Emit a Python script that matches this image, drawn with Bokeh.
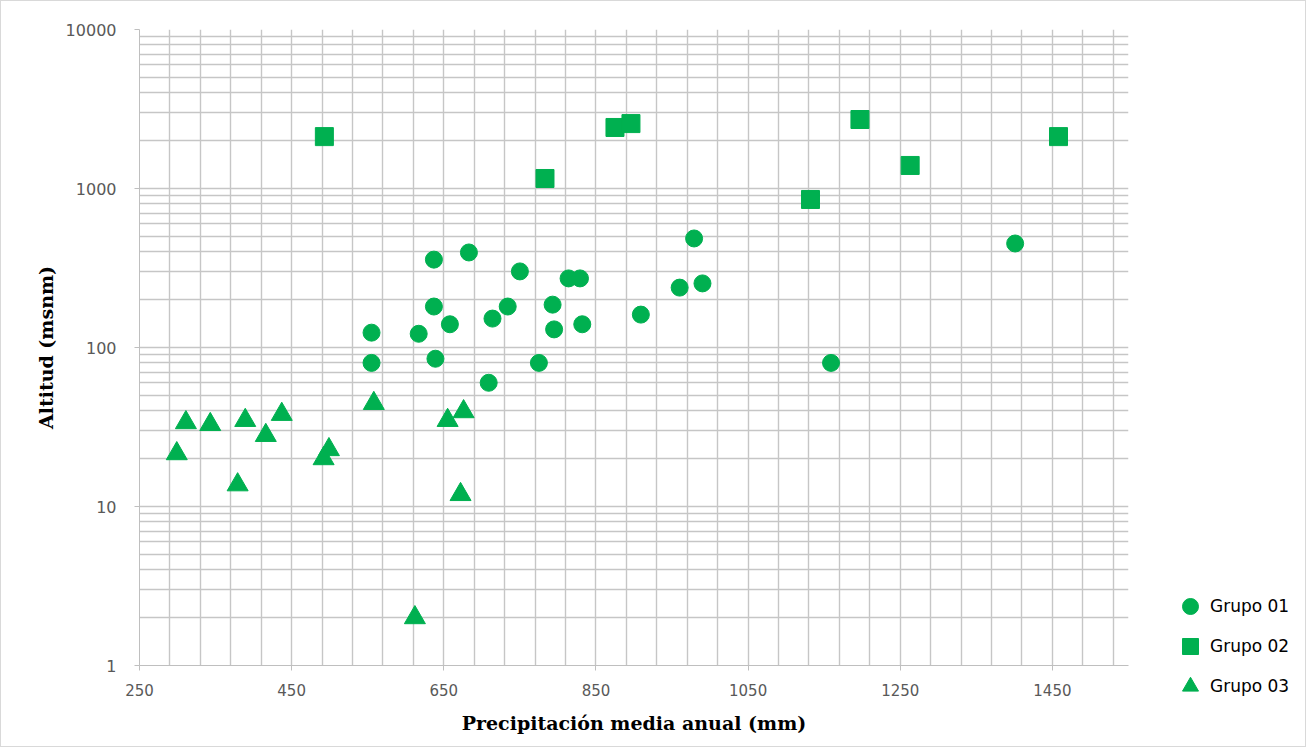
from bokeh.plotting import figure
from bokeh.models import Range1d, FixedTicker, PrintfTickFormatter, Legend, LegendItem
from bokeh.layouts import row
from bokeh.embed import file_html
from bokeh.resources import INLINE

# ---- data ----
g1_x = [555, 555, 637, 637, 639, 617, 658, 683, 709, 714, 734, 750, 775, 793, 795, 814, 829, 832, 909, 960, 979, 990, 1159, 1401]
g1_y = [124, 80, 357, 181, 85, 122, 140, 396, 60, 152, 181, 301, 80, 186, 130, 272, 272, 140, 161, 238, 485, 253, 80, 451]

g2_x = [493, 783, 875, 896, 1132, 1197, 1263, 1458]
g2_y = [2120, 1156, 2420, 2560, 853, 2716, 1396, 2120]

g3_x = [299, 311, 343, 379, 389, 416, 437, 492, 499, 558, 655, 676, 672, 612]
g3_y = [21.5, 33.7, 32.8, 13.7, 34.8, 28, 38, 20, 22.8, 44.5, 34.8, 39.5, 11.9, 2]

series_names = ["Grupo 01", "Grupo 02", "Grupo 03"]
x_ticks = [250, 450, 650, 850, 1050, 1250, 1450]
y_ticks = [1, 10, 100, 1000, 10000]

GREEN = "#00b050"
GRID = "#c6c6c6"
TOTAL_W, TOTAL_H = 1304, 745
MAIN_W = 1130

p = figure(width=MAIN_W, height=TOTAL_H, output_backend="svg", toolbar_location=None,
           x_range=Range1d(250, 1550), y_range=Range1d(1, 10000), y_axis_type="log",
           min_border_left=138, min_border_right=3, min_border_top=28, min_border_bottom=81)
p.outline_line_color = None
p.background_fill_color = "white"
p.border_fill_color = "white"

# grids
p.xgrid.ticker = FixedTicker(ticks=list(range(250, 1551, 40)) + [1550])
ygt = []
for e in range(0, 4):
    for m in range(1, 10):
        ygt.append(m * 10 ** e)
ygt.append(10000)
p.ygrid.ticker = FixedTicker(ticks=ygt)
for g in (p.xgrid, p.ygrid):
    g.grid_line_color = GRID
    g.grid_line_width = 1.4

# axes
p.xaxis.ticker = FixedTicker(ticks=x_ticks)
p.yaxis.ticker = FixedTicker(ticks=y_ticks)
p.yaxis.formatter = PrintfTickFormatter(format="%d")
for ax in (p.xaxis, p.yaxis):
    ax.axis_line_color = "#bfbfbf"
    ax.major_tick_line_color = "#bfbfbf"
    ax.major_tick_out = 5
    ax.major_tick_in = 0
    ax.minor_tick_out = 0
    ax.minor_tick_in = 0
    ax.major_label_text_font = "DejaVu Sans"
    ax.major_label_text_font_size = "15px"
    ax.major_label_text_color = "#595959"
    ax.axis_label_text_font = "DejaVu Serif"
    ax.axis_label_text_font_style = "bold"
    ax.axis_label_text_font_size = "19px"
    ax.axis_label_text_color = "#000000"
p.yaxis.major_label_text_font_size = "16px"
p.xaxis.major_label_standoff = 13
p.yaxis.major_label_standoff = 18
p.xaxis.axis_label = "Precipitación media anual (mm)"
p.yaxis.axis_label = "Altitud (msnm)"
p.xaxis.axis_label_standoff = 13
p.yaxis.axis_label_standoff = 6

p.scatter(g1_x, g1_y, marker="circle", size=17, fill_color=GREEN, line_color=GREEN)
p.scatter(g2_x, g2_y, marker="square", size=18, fill_color=GREEN, line_color=GREEN)
p.scatter(g3_x, g3_y, marker="triangle", size=21, fill_color=GREEN, line_color=GREEN)

# legend panel to the right of the plot area (proxy points lie outside its ranges)
lg = figure(width=TOTAL_W - MAIN_W, height=TOTAL_H, output_backend="svg", toolbar_location=None,
            x_range=Range1d(0, 1), y_range=Range1d(0, 1),
            x_axis_location=None, y_axis_location=None,
            min_border_left=0, min_border_right=0, min_border_top=0, min_border_bottom=0)
lg.frame_align = False
lg.grid.visible = False
lg.outline_line_color = None
lg.border_fill_color = "white"
lg.background_fill_color = "white"
k1 = lg.scatter(g1_x[:1], g1_y[:1], marker="circle", size=17, fill_color=GREEN, line_color=GREEN)
k2 = lg.scatter(g2_x[:1], g2_y[:1], marker="square", size=17, fill_color=GREEN, line_color=GREEN)
k3 = lg.scatter(g3_x[:1], g3_y[:1], marker="triangle", size=19, fill_color=GREEN, line_color=GREEN)
legend = Legend(items=[LegendItem(label=series_names[0], renderers=[k1]),
                       LegendItem(label=series_names[1], renderers=[k2]),
                       LegendItem(label=series_names[2], renderers=[k3])],
                location=(39, 40))
legend.border_line_color = None
legend.background_fill_alpha = 0
legend.label_text_font = "DejaVu Sans"
legend.label_text_font_size = "17px"
legend.label_text_color = "#000000"
legend.glyph_width = 40
legend.glyph_height = 40
legend.label_height = 20
legend.spacing = 0
legend.padding = 0
legend.margin = 0
legend.label_standoff = 0
lg.add_layout(legend, "center")

layout = row(p, lg, spacing=0)
layout.styles = {"border": "1px solid #d9d9d9"}

open("out.html", "w").write(file_html(layout, INLINE))
